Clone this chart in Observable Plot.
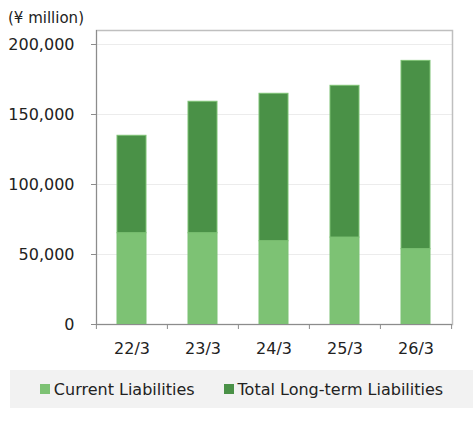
<!DOCTYPE html>
<html>
<head>
<meta charset="utf-8">
<script src="https://cdn.jsdelivr.net/npm/d3@7"></script>
<script src="https://cdn.jsdelivr.net/npm/@observablehq/plot@0.6"></script>
<style>
  html, body { margin: 0; padding: 0; background: #fff; }
  body { font-family: "DejaVu Sans", Verdana, sans-serif; color: #222; width: 473px; }
  #wrap { position: relative; width: 473px; }
  #unit { position: absolute; left: 8px; top: 9px; font-size: 15px; line-height: 18px; color: #222; }
  #legend { margin: 10px 0 0 10px; width: 463px; height: 38px; background: #f2f2f2;
            display: flex; align-items: center; justify-content: center; gap: 29px; font-size: 16px; }
  .item { display: flex; align-items: center; }
  .sw { width: 10px; height: 10px; margin-right: 4px; }
</style>
</head>
<body>
<div id="wrap">
  <div id="unit">(¥ million)</div>
  <div id="chart"></div>
  <div id="legend"></div>
</div>
<script>
const years = ["22/3", "23/3", "24/3", "25/3", "26/3"];
const seriesNames = ["Current Liabilities", "Total Long-term Liabilities"];
const currentLiabilities = [65200, 65200, 59500, 62100, 53800];
const longTermLiabilities = [69600, 93900, 105300, 108400, 134500];
const yTicks = [0, 50000, 100000, 150000, 200000];
const colors = ["#7dc274", "#4a9147"];

const data = [];
years.forEach((yr, i) => {
  data.push({year: yr, series: seriesNames[0], value: currentLiabilities[i]});
  data.push({year: yr, series: seriesNames[1], value: longTermLiabilities[i]});
});

const W = 473, H = 360, mL = 96, mR = 21, mT = 30, mB = 36;
const step = (W - mL - mR) / years.length;

const chart = Plot.plot({
  width: W, height: H,
  marginLeft: mL, marginRight: mR, marginTop: mT, marginBottom: mB,
  style: {fontFamily: '"DejaVu Sans", Verdana, sans-serif', background: "#fff", color: "#222"},
  x: {domain: years, paddingInner: 0.59, paddingOuter: 0.295, label: null},
  y: {domain: [0, 210000], label: null},
  color: {domain: seriesNames, range: colors},
  marks: [
    Plot.gridY(yTicks.slice(1), {stroke: "#ececec", strokeOpacity: 1}),
    Plot.frame({stroke: "#bfbfbf", strokeWidth: 1.5}),
    Plot.barY(data, {x: "year", y: "value", fill: "series", stroke: colors[0], strokeWidth: 1}),
    Plot.frame({anchor: "left", stroke: "#8c8c8c"}),
    Plot.ruleY([0], {stroke: "#8c8c8c"}),
    Plot.ruleX(years, {x: d => d, y1: 0, y2: 0, insetBottom: -5, dx: -step / 2, stroke: "#8c8c8c"}),
    Plot.ruleX([years[years.length - 1]], {x: d => d, y1: 0, y2: 0, insetBottom: -5, dx: step / 2, stroke: "#8c8c8c"}),
    Plot.axisY(yTicks, {tickFormat: d3.format(","), tickSize: 5, tickPadding: 17, fontSize: 16, stroke: "#8c8c8c", fill: "#222"}),
    Plot.axisX({tickSize: 0, tickPadding: 18, fontSize: 16, fill: "#222"})
  ]
});
document.getElementById("chart").appendChild(chart);

const legend = document.getElementById("legend");
seriesNames.forEach((name, i) => {
  const it = document.createElement("div");
  it.className = "item";
  const sw = document.createElement("div");
  sw.className = "sw";
  sw.style.background = colors[i];
  const tx = document.createElement("span");
  tx.textContent = name;
  it.appendChild(sw); it.appendChild(tx);
  legend.appendChild(it);
});
</script>
</body>
</html>
